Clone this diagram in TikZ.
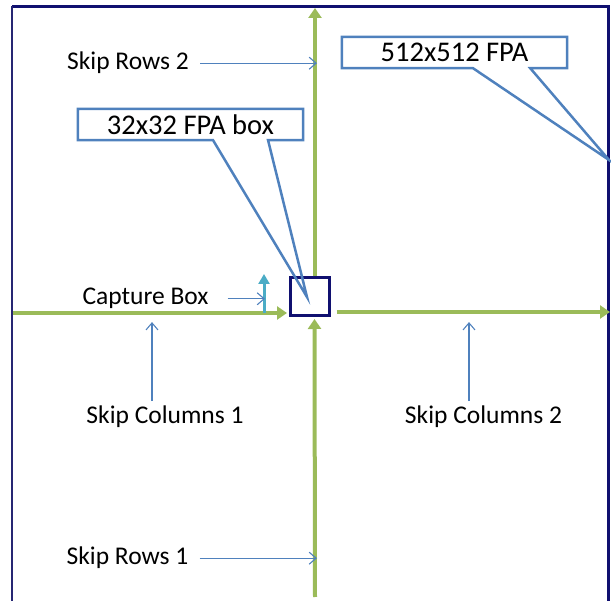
\documentclass[tikz,border=0pt]{standalone}
\usepackage{fontspec}
\setmainfont{Carlito}
\usetikzlibrary{arrows.meta,calc}

\definecolor{pathgreen}{RGB}{155,187,89}
\definecolor{calloutblue}{RGB}{79,129,189}
\definecolor{capcyan}{RGB}{75,172,198}
\definecolor{fpanavy}{RGB}{16,16,112}

\tikzstyle{label} = [anchor=base,inner xsep=11pt,inner ysep=5pt,font=\fontsize{25.5}{30}\selectfont]
\tikzstyle{callouttext} = [font=\fontsize{28.5}{34}\selectfont,minimum width=225,minimum height=31,inner sep=0pt]
\tikzstyle{callout} = [draw=calloutblue,line width=2.5pt,line join=miter]
\tikzstyle{capbox} = [draw=fpanavy,line width=3pt,minimum width=39,minimum height=38,inner sep=0pt]
\tikzstyle{flow} = [draw=pathgreen,line width=4pt,-{Triangle[length=10pt,width=13pt]}]
\tikzstyle{pointer} = [draw=calloutblue,line width=1.1pt,-{Straight Barb[length=7pt,width=12pt]}]

\begin{document}
\begin{tikzpicture}[x=1pt,y=-1pt]
	\useasboundingbox (0,0) rectangle (611,601);
	% frame of the 512x512 FPA
	\draw[fpanavy,line width=3pt] (12,6.5) -- (608,6.5) -- (608,601);
	\draw[fpanavy!80!gray,line width=1.2pt] (12,6.5) -- (12,601);

	\node[capbox] (box) at (309.5,297) {};
	\coordinate (top) at (315,8);
	\coordinate (bottom) at (315,597);
	\coordinate (left) at (13,313);
	\coordinate (right) at (610,312);
	\coordinate (vline) at (317,0);
	\coordinate (hline) at (0,321);
	\coordinate (cap0) at (264,313);
	\coordinate (cap1) at (264,274);
	\coordinate (captip) at (265,0);
	\coordinate (fpatip) at (609,160);
	\coordinate (boxtip) at (307,297);

	\draw[flow] ([xshift=5.5]box.north) -- (top);
	\draw[flow] (bottom) -- ([xshift=5,yshift=-1.5]box.south);
	\draw[flow] (left) -- ([xshift=-1.5,yshift=-16]box.west);
	\draw[flow] ([xshift=6,yshift=-15]box.east) -- (right);
	\draw[capcyan,line width=3pt,-{Triangle[length=10pt,width=11pt]}] (cap0) -- (cap1);

	\node[label] (rows2) at (128,70) {Skip Rows 2};
	\node[label] (caplabel) at (145.5,305) {Capture Box};
	\node[label] (cols1) at (165,424) {Skip Columns 1};
	\node[label] (cols2) at (483.5,424) {Skip Columns 2};
	\node[label] (rows1) at (127.5,565) {Skip Rows 1};
	\draw[pointer] (rows2) -- (rows2 -| vline);
	\draw[pointer,shorten <=8pt] (caplabel) -- (caplabel -| captip);
	\draw[pointer] ([xshift=-13]cols1.north) -- ++(0,-79);
	\draw[pointer] ([xshift=-14.5]cols2.north) -- ++(0,-79);
	\draw[pointer] (rows1) -- (rows1 -| vline);

	\node[callouttext] (fpa) at (454.5,52.5) {512x512 FPA};
	\draw[callout] (fpa.south west) -- (fpa.north west) -- (fpa.north east)
		-- (fpa.south east) -- ($(fpa.south west)!0.836!(fpa.south east)$)
		-- (fpatip) -- ($(fpa.south west)!0.582!(fpa.south east)$) -- cycle;
	\node[callouttext] (boxcall) at (190.5,124.5) {32x32 FPA box};
	\draw[callout] (boxcall.south west) -- (boxcall.north west) -- (boxcall.north east)
		-- (boxcall.south east) -- ($(boxcall.south west)!0.844!(boxcall.south east)$)
		-- (boxtip) -- ($(boxcall.south west)!0.6!(boxcall.south east)$) -- cycle;
\end{tikzpicture}
\end{document}
